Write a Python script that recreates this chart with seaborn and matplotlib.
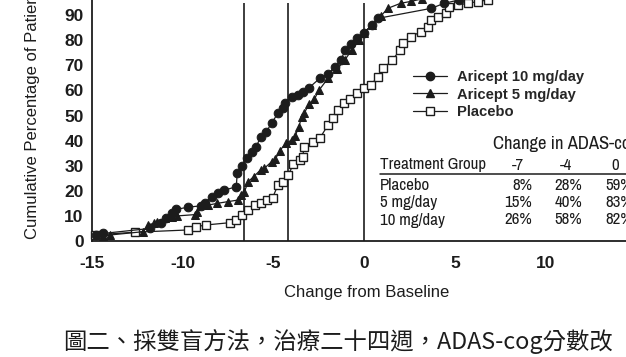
import matplotlib
matplotlib.use("Agg")
import matplotlib.pyplot as plt
from matplotlib.lines import Line2D
from matplotlib import font_manager
import seaborn as sns
import pandas as pd

# ---------------- data ----------------
x_10mg = [-14.8, -14.4, -11.8, -11.2, -10.9, -10.6, -10.35, -9.7, -9.0, -8.8, -8.4, -8.07,
          -7.7, -7.05, -7.0, -6.75, -6.45, -6.2, -5.95, -5.7, -5.4, -5.1, -4.75, -4.5,
          -4.35, -4.0, -3.65, -3.35, -3.05, -2.45, -2.0, -1.6, -1.3, -1.05, -0.75, -0.4,
          0.0, 0.4, 0.75, 3.7, 4.4, 5.2]
y_10mg = [2.5, 3.0, 5.0, 7.0, 9.0, 11.0, 12.6, 13.5, 14.0, 15.0, 17.7, 19.0,
          20.3, 21.6, 27.0, 30.0, 33.0, 35.5, 37.6, 41.6, 43.5, 47.0, 51.0, 53.0,
          55.0, 57.5, 58.0, 59.5, 61.0, 64.8, 66.5, 69.5, 72.0, 76.0, 78.5, 81.0,
          83.0, 86.0, 88.7, 92.7, 94.7, 96.0]

x_5mg = [-14.4, -14.0, -12.2, -11.9, -11.6, -11.4, -11.0, -10.6, -10.3, -9.35, -9.2,
         -8.6, -8.1, -7.5, -6.97, -6.8, -6.6, -6.4, -6.1, -5.7, -5.5, -5.1, -4.9,
         -4.66, -4.3, -4.0, -3.8, -3.6, -3.45, -3.3, -3.05, -2.75, -2.5, -2.0, -1.5,
         -1.08, -0.7, -0.3, 0.0, 0.4, 0.9, 1.3, 2.0, 2.6, 3.2]
y_5mg = [2.0, 2.4, 3.7, 6.4, 7.0, 7.7, 9.0, 9.5, 10.0, 10.5, 11.7,
         14.3, 15.0, 15.7, 16.3, 18.3, 19.6, 23.6, 25.6, 28.4, 29.0, 31.6, 32.5,
         36.0, 39.0, 40.2, 42.0, 45.5, 49.5, 51.0, 54.5, 56.5, 60.0, 64.8, 68.5,
         72.0, 76.0, 80.0, 83.0, 86.0, 89.5, 92.7, 94.7, 95.5, 96.5]

x_placebo = [-14.85, -12.65, -9.7, -9.26, -8.7, -7.4, -7.05, -6.74, -6.4, -6.04, -5.7,
             -5.35, -5.05, -4.75, -4.48, -4.2, -3.9, -3.56, -3.4, -3.3, -2.85, -2.45,
             -2.0, -1.7, -1.45, -1.1, -0.8, -0.4, 0.0, 0.35, 0.75, 1.05, 1.55, 1.95,
             2.15, 2.6, 3.1, 3.5, 3.7, 4.05, 4.5, 4.65, 5.15, 5.7, 6.25, 6.8]
y_placebo = [2.4, 3.5, 4.4, 5.7, 6.4, 7.3, 8.4, 10.4, 12.4, 14.3, 15.2,
             16.3, 17.3, 22.3, 23.6, 26.3, 30.5, 32.3, 33.6, 37.6, 39.5, 40.9,
             46.2, 48.9, 52.2, 55.0, 56.5, 59.0, 60.8, 62.0, 65.5, 68.8, 72.0, 76.0,
             78.8, 81.4, 83.4, 85.4, 88.0, 89.4, 90.7, 93.4, 94.0, 94.7, 95.4, 96.0]

ref_x = [-6.6, -4.2, 0]           # vertical reference lines
x_ticks = [-15, -10, -5, 0, 5, 10]
y_ticks = [0, 10, 20, 30, 40, 50, 60, 70, 80, 90, 100]

legend_labels = ["Aricept 10 mg/day", "Aricept 5 mg/day", "Placebo"]

table_title = "Change in ADAS-cog"
table_cols = ["Treatment Group", "-7", "-4", "0"]
table_groups = ["Placebo", "5 mg/day", "10 mg/day"]
table_at_m7 = ["8%", "15%", "26%"]
table_at_m4 = ["28%", "40%", "58%"]
table_at_0 = ["59%", "83%", "82%"]

caption = "圖二、採雙盲方法，治療二十四週，ADAS-cog分數改"

# ---------------- style ----------------
sns.set_theme(style="white")
names = sorted({f.name for f in font_manager.fontManager.ttflist})
cond = [n for n in names if ("Narrow" in n or "Condensed" in n)]
NARROW = cond[0] if cond else "Liberation Sans"
plt.rcParams["font.family"] = ["Liberation Sans", "DejaVu Sans"]

INK = "#1c1c1c"
W, H = 626, 357
fig = plt.figure(figsize=(W / 100, H / 100), dpi=100)
fig.patch.set_facecolor("white")
ax = fig.add_axes([92 / W, (H - 241) / H, 30 * 18.15 / W, 105 * 2.51 / H])
ax.set_facecolor("white")

df10 = pd.DataFrame({"x": x_10mg, "y": y_10mg})
df5 = pd.DataFrame({"x": x_5mg, "y": y_5mg})
dfp = pd.DataFrame({"x": x_placebo, "y": y_placebo})

common = dict(x="x", y="y", ax=ax, estimator=None, sort=False, color=INK,
              linewidth=0.9, clip_on=False, legend=False)
sns.lineplot(data=dfp, marker="s", markersize=5.2, markerfacecolor="white",
             markeredgecolor=INK, markeredgewidth=1.0, zorder=3, **common)
sns.lineplot(data=df5, marker="^", markersize=6.2, markerfacecolor=INK,
             markeredgecolor=INK, zorder=4, **common)
sns.lineplot(data=df10, marker="o", markersize=6.2, markerfacecolor=INK,
             markeredgecolor=INK, zorder=5, **common)

ax.vlines(ref_x, 0, 95, color=INK, linewidth=1.2, zorder=2)

ax.set_xlim(-15, 15)
ax.set_ylim(0, 105)
ax.set_xticks(x_ticks)
ax.set_yticks(y_ticks)
ax.set_xticklabels([str(t) for t in x_ticks])
ax.set_yticklabels([str(t) for t in y_ticks])
for s in ["top", "right"]:
    ax.spines[s].set_visible(False)
for s in ["left", "bottom"]:
    ax.spines[s].set_color(INK)
    ax.spines[s].set_linewidth(1.3)
ax.tick_params(axis="both", direction="inout", length=6, width=1.1, color=INK,
               labelsize=12.5, labelcolor=INK)
ax.tick_params(axis="x", pad=8)
ax.tick_params(axis="y", pad=3)
for lab in ax.get_xticklabels() + ax.get_yticklabels():
    lab.set_fontweight("bold")
ax.set_xlabel("")
ax.set_ylabel("")

fig.text(367 / W, 1 - 292 / H, "Change from Baseline", ha="center", va="center",
         fontsize=12, color=INK)
fig.text(33 / W, 1 - 110 / H, "Cumulative Percentage of Patients", ha="center",
         va="center", rotation=90, fontsize=12, color=INK)

# legend
handles = [
    Line2D([], [], color=INK, lw=0.9, marker="o", markersize=6, markerfacecolor=INK),
    Line2D([], [], color=INK, lw=0.9, marker="^", markersize=6, markerfacecolor=INK),
    Line2D([], [], color=INK, lw=0.9, marker="s", markersize=5.2, markerfacecolor="white",
           markeredgecolor=INK),
]
fig.legend(handles, legend_labels, loc="upper left",
           bbox_to_anchor=(413 / W, 1 - 70 / H), bbox_transform=fig.transFigure,
           frameon=False, borderpad=0, borderaxespad=0, handlelength=2.3,
           handletextpad=0.68, labelspacing=0.24,
           prop={"family": "Liberation Sans", "weight": "bold", "size": 10.6})

# table
tfs = 12.2 if cond else 10.6
tfam = [NARROW, "Liberation Sans"]
fig.text(493 / W, 1 - 144 / H, table_title, ha="left", va="center",
         fontsize=tfs + 1.2, color=INK, family=tfam)
fig.text(380 / W, 1 - 165 / H, table_cols[0], ha="left", va="center", fontsize=tfs,
         color=INK, family=tfam)
for cx, lab in zip([518, 566, 615], table_cols[1:]):
    fig.text(cx / W, 1 - 165 / H, lab, ha="center", va="center", fontsize=tfs,
             color=INK, family=tfam)
fig.add_artist(Line2D([380 / W, 1.0], [1 - 174 / H, 1 - 174 / H],
                      transform=fig.transFigure, color=INK, lw=1.1))
for i, (g, a, b, c) in enumerate(zip(table_groups, table_at_m7, table_at_m4, table_at_0)):
    yy = 1 - (185 + i * 17.5) / H
    fig.text(380 / W, yy, g, ha="left", va="center", fontsize=tfs, color=INK, family=tfam)
    fig.text(532 / W, yy, a, ha="right", va="center", fontsize=tfs, color=INK, family=tfam)
    fig.text(582 / W, yy, b, ha="right", va="center", fontsize=tfs, color=INK, family=tfam)
    fig.text(633 / W, yy, c, ha="right", va="center", fontsize=tfs, color=INK, family=tfam)

fig.text(63 / W, 1 - 341 / H, caption, ha="left", va="center", fontsize=16.8,
         color=INK, family=["Noto Sans CJK TC", "DejaVu Sans"])

fig.savefig("out.png", dpi=100)
